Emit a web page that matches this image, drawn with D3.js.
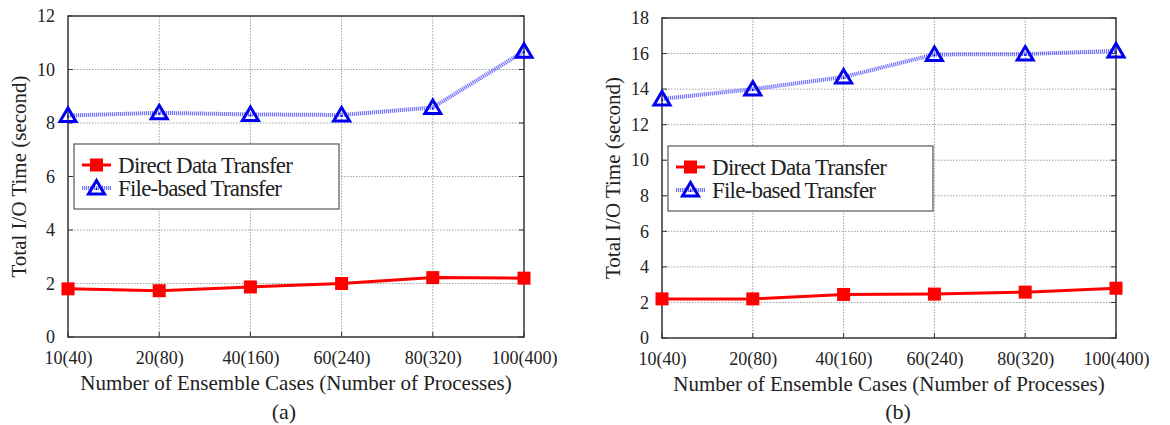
<!DOCTYPE html>
<html><head><meta charset="utf-8">
<script src="https://cdn.jsdelivr.net/npm/d3@7"></script>
<style>body{margin:0;background:#fff}svg{display:block}text{font-family:"Liberation Serif","Times New Roman",serif;fill:#222}</style>
</head><body>
<svg id="c" width="1170" height="425"></svg>
<script>
const categories = ["10(40)","20(80)","40(160)","60(240)","80(320)","100(400)"];
const directA = [1.8, 1.73, 1.87, 2.0, 2.22, 2.2];
const fileA   = [8.28, 8.38, 8.32, 8.3, 8.58, 10.68];
const directB = [2.2, 2.2, 2.45, 2.47, 2.58, 2.8];
const fileB   = [13.45, 14.0, 14.68, 15.95, 15.97, 16.15];
const yTicksA = [0,2,4,6,8,10,12];
const yTicksB = [0,2,4,6,8,10,12,14,16,18];
const seriesNames = ["Direct Data Transfer","File-based Transfer"];
const xTitle = "Number of Ensemble Cases (Number of Processes)";
const yTitle = "Total I/O Time (second)";

const svg = d3.select("#c");

function panel(o){
  const g = svg.append("g");
  const x = d3.scalePoint().domain(categories).range([o.left, o.right]);
  const y = d3.scaleLinear().domain([0, o.ymax]).range([o.bottom, o.top]);
  // grid
  g.selectAll(".gx").data(categories.slice(1,-1)).enter().append("line")
    .attr("x1", d=>x(d)).attr("x2", d=>x(d)).attr("y1", o.top).attr("y2", o.bottom)
    .attr("stroke","#888").attr("stroke-width",0.8).attr("stroke-dasharray","1.5,1.5");
  g.selectAll(".gy").data(o.ticks.slice(1,-1)).enter().append("line")
    .attr("x1", o.left).attr("x2", o.right).attr("y1", d=>y(d)).attr("y2", d=>y(d))
    .attr("stroke","#888").attr("stroke-width",0.8).attr("stroke-dasharray","1.5,1.5");
  // axes (tick labels)
  const ya = d3.axisLeft(y).tickValues(o.ticks).tickSize(0).tickPadding(13).tickFormat(d3.format("d"));
  const yg = g.append("g").attr("transform",`translate(${o.left},0)`).call(ya);
  yg.select(".domain").remove();
  yg.selectAll("text").style("font-size","18px").attr("fill","#222");
  const xa = d3.axisBottom(x).tickSize(0).tickPadding(14);
  const xg = g.append("g").attr("transform",`translate(0,${o.bottom})`).call(xa);
  xg.select(".domain").remove();
  xg.selectAll("text").style("font-size","18px").attr("fill","#222");
  // inward ticks
  g.selectAll(".ty").data(o.ticks).enter().append("line")
    .attr("x1", o.right-5).attr("x2", o.right).attr("y1", d=>y(d)).attr("y2", d=>y(d))
    .attr("stroke","#333").attr("stroke-width",1);
  g.selectAll(".tyl").data(o.ticks).enter().append("line")
    .attr("x1", o.left).attr("x2", o.left+5).attr("y1", d=>y(d)).attr("y2", d=>y(d))
    .attr("stroke","#333").attr("stroke-width",1);
  g.selectAll(".txb").data(categories).enter().append("line")
    .attr("x1", d=>x(d)).attr("x2", d=>x(d)).attr("y1", o.bottom-5).attr("y2", o.bottom)
    .attr("stroke","#333").attr("stroke-width",1);
  // frame
  g.append("rect").attr("x",o.left).attr("y",o.top).attr("width",o.right-o.left).attr("height",o.bottom-o.top)
    .attr("fill","none").attr("stroke","#333").attr("stroke-width",1.5);
  // titles
  g.append("text").attr("x",(o.left+o.right)/2).attr("y",o.bottom+53).attr("text-anchor","middle")
    .style("font-size","21px").text(xTitle);
  g.append("text").attr("transform",`translate(${o.ylabX},${(o.top+o.bottom)/2}) rotate(-90)`)
    .attr("text-anchor","middle").attr("dominant-baseline","central").style("font-size","21px").text(yTitle);
  g.append("text").attr("x",o.subX).attr("y",419).attr("text-anchor","middle").style("font-size","22px").text(o.sub);

  const line = d3.line().x((d,i)=>x(categories[i])).y(d=>y(d));
  // file-based
  g.append("path").datum(o.file).attr("d",line).attr("fill","none")
    .attr("stroke","#5c5cff").attr("stroke-width",4).attr("stroke-dasharray","1.2,0.8").attr("opacity",0.85);
  // direct
  g.append("path").datum(o.direct).attr("d",line).attr("fill","none")
    .attr("stroke","#ff0000").attr("stroke-width",3);
  const tri = "M0,-7.5L8,6L-8,6Z";
  function drawTri(sel){
    sel.append("path").attr("d",tri).attr("fill","none").attr("stroke","#0000ee").attr("stroke-width",3).attr("stroke-linejoin","miter");
    sel.append("circle").attr("r",1).attr("cy",1).attr("fill","#0000ee");
  }
  g.selectAll(".ft").data(o.file).enter().append("g")
    .attr("transform",(d,i)=>`translate(${x(categories[i])},${y(d)})`).each(function(){drawTri(d3.select(this));});
  g.selectAll(".ds").data(o.direct).enter().append("rect")
    .attr("x",(d,i)=>x(categories[i])-6.5).attr("y",d=>y(d)-6.5).attr("width",13).attr("height",13).attr("fill","#ff0000");
  // legend
  const L = o.leg;
  g.append("rect").attr("x",L.x).attr("y",L.y).attr("width",L.w).attr("height",L.h)
    .attr("fill","#fff").attr("stroke","#555").attr("stroke-width",1.2);
  const r1 = L.y+21, r2 = L.y+44, lx0 = L.x+8, lx1 = L.x+37, lm = (lx0+lx1)/2;
  g.append("line").attr("x1",lx0).attr("x2",lx1).attr("y1",r1).attr("y2",r1).attr("stroke","#ff0000").attr("stroke-width",3);
  g.append("rect").attr("x",lm-6.5).attr("y",r1-6.5).attr("width",13).attr("height",13).attr("fill","#ff0000");
  g.append("line").attr("x1",lx0).attr("x2",lx1).attr("y1",r2).attr("y2",r2).attr("stroke","#5c5cff").attr("stroke-width",4).attr("stroke-dasharray","1.2,0.8").attr("opacity",0.85);
  drawTri(g.append("g").attr("transform",`translate(${lm},${r2})`));
  g.append("text").attr("x",L.x+44).attr("y",r1).attr("dominant-baseline","central").style("font-size","23px")
    .attr("textLength",175).attr("lengthAdjust","spacing").text(seriesNames[0]);
  g.append("text").attr("x",L.x+44).attr("y",r2).attr("dominant-baseline","central").style("font-size","23px")
    .attr("textLength",164).attr("lengthAdjust","spacing").text(seriesNames[1]);
}

panel({left:68,right:524,top:16,bottom:337,ymax:12,ticks:yTicksA,direct:directA,file:fileA,
  ylabX:19,subX:284,sub:"(a)",leg:{x:74,y:144,w:265,h:65}});
panel({left:662,right:1116,top:18,bottom:338,ymax:18,ticks:yTicksB,direct:directB,file:fileB,
  ylabX:613,subX:898,sub:"(b)",leg:{x:668,y:146,w:265,h:65}});
</script>
</body></html>
